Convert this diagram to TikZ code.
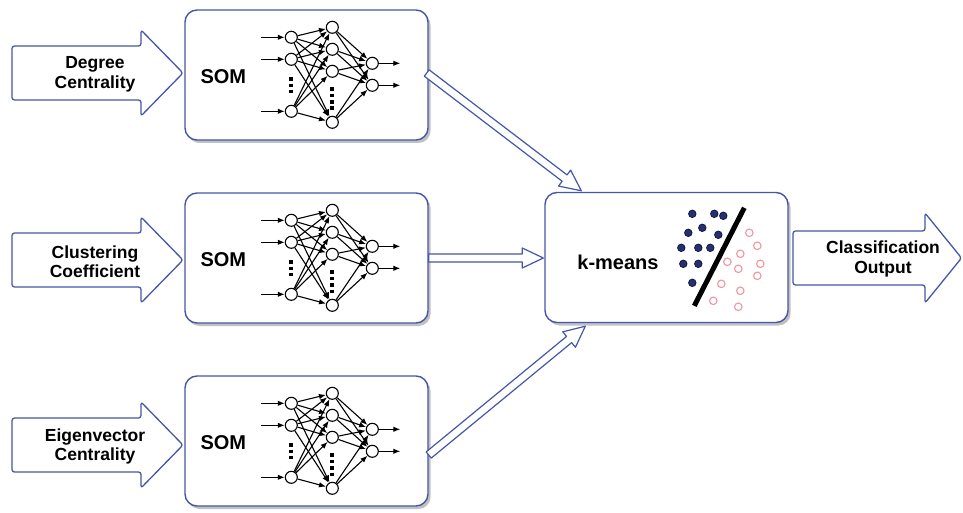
\documentclass[tikz,border=0pt]{standalone}
\usepackage{fontspec}
\setmainfont{Liberation Sans}
\usetikzlibrary{arrows.meta,calc,shadows}
\definecolor{bord}{RGB}{70,86,168}
\definecolor{navy}{RGB}{38,48,112}
\definecolor{navyline}{RGB}{18,24,64}
\definecolor{pinkc}{RGB}{238,150,162}
\newcommand\hollowarrow[2]{%
  \coordinate (hb) at ($(#2)!21pt!(#1)$);
  \draw[conn] ($(#1)!4pt!90:(#2)$) -- ($(hb)!4pt!90:(#2)$) -- ($(hb)!10pt!90:(#2)$) -- (#2)
     -- ($(hb)!10pt!-90:(#2)$) -- ($(hb)!4pt!-90:(#2)$) -- ($(#1)!4pt!-90:(#2)$) -- cycle;
}
\tikzset{
  box/.style={draw=bord, line width=1.4pt, rounded corners=12pt, fill=white,
    minimum width=243pt, minimum height=130pt, inner sep=0pt,
    drop shadow={shadow xshift=2.5pt, shadow yshift=-3pt, opacity=0.35, fill=black!70}},
  bigarrow/.style={draw=bord, line width=1.3pt, fill=white, rounded corners=2.5pt, line join=round},
  conn/.style={draw=bord, line width=1.2pt, fill=white, line join=round},
  lbl/.style={font=\fontsize{17.5}{19.5}\selectfont\bfseries, align=center, inner sep=0pt},
  big/.style={font=\fontsize{20}{22}\selectfont\bfseries, inner sep=0pt},
  neuron/.style={circle, draw, fill=white, line width=1.1pt, minimum size=12pt, inner sep=0pt},
  nn/.style={line width=1.1pt, -{Latex[length=7pt,width=5.5pt]}},
  vdots/.style={line width=3.8pt, dash pattern=on 3.6pt off 2.8pt},
  bdot/.style={circle, fill=navy, draw=navyline, line width=0.8pt, minimum size=7.5pt, inner sep=0pt},
  pdot/.style={circle, draw=pinkc, line width=1.1pt, minimum size=7.5pt, inner sep=0pt},
  somnet/.pic={
    \foreach \i/\y in {1/28,2/50,3/102}{
      \node[neuron] (-i\i) at (107,\y) {};
      \coordinate (-s\i) at (77,\y);
      \draw[nn] (-s\i) -- (-i\i);
    }
    \foreach \j/\y in {1/18,2/40,3/62,4/113}
      \node[neuron] (-h\j) at (148,\y) {};
    \foreach \k/\y in {1/54,2/76}{
      \node[neuron] (-o\k) at (188,\y) {};
      \coordinate (-e\k) at (216,\y);
      \draw[nn] (-o\k) -- (-e\k);
    }
    \foreach \i in {1,2,3}
      \foreach \j in {1,2,3,4}
        \draw[nn] (-i\i) -- (-h\j);
    \foreach \j in {1,2,3,4}
      \foreach \k in {1,2}
        \draw[nn] (-h\j) -- (-o\k);
    \draw[vdots] (107,68) -- (107,84);
    \draw[vdots] (148,78) -- (148,100.5);
  }
}
\begin{document}
\begin{tikzpicture}[x=1pt,y=-1pt]
\useasboundingbox (0,0) rectangle (963,513);

% SOM boxes
\node[box] (som1) at (306.5,75) {};
\node[box] (som2) at (306.5,258) {};
\node[box] (som3) at (306.5,441) {};
\node[box] (km) at (666.5,257.5) {};

\foreach \b in {som1,som2,som3}{
  \node[big] (\b-t) at ($(\b.west)+(39,2)$) {SOM};
  \pic (\b-net) at (\b.north west) {somnet};
}

% input arrows
\foreach \n/\cy/\t in {in1/73/{Degree\\Centrality},in2/260/{Clustering\\Coefficient},in3/445/{Eigenvector\\Centrality}}{
  \draw[bigarrow] (12,\cy-27) -- (141,\cy-27) -- (141,\cy-43) -- (183,\cy) -- (141,\cy+43) -- (141,\cy+27) -- (12,\cy+27) -- cycle;
  \node[lbl] (\n) at (95,\cy+1.5) {\t};
}

% output arrow
\draw[bigarrow] (793,231) -- (925,231) -- (925,213) -- (961.5,258) -- (925,303) -- (925,285) -- (793,285) -- cycle;
\node[lbl] (out) at (883,259) {Classification\\Output};

% k-means content
\node[big] (kmt) at (618,262) {k-means};
\begin{scope}[shift={(km.north west)}]
  \foreach \x/\y in {148/22,170/22,179/24,158/36,144/41,174/43,137/56,154/56,166/56,139/72,154/72,148/91}
    \node[bdot] at (\x,\y) {};
  \foreach \x/\y in {205/41,213/54,196/62,183/70,216/72,194/77,213/84,177/92,196/99,169/109,194/115}
    \node[pdot] at (\x,\y) {};
  \draw[line width=5pt] (200,16) -- (150,114);
\end{scope}

% connectors
\coordinate (s1) at ($(som1.east)+(-2,-2)$);
\coordinate (t1) at ($(km.north west)+(37,-1)$);
\coordinate (s2) at (som2.east);
\coordinate (t2) at ($(km.west)+(-1,0.5)$);
\coordinate (s3) at ($(som3.east)+(0,14)$);
\coordinate (t3) at ($(km.south west)+(41,3)$);
\hollowarrow{s1}{t1}
\hollowarrow{s2}{t2}
\hollowarrow{s3}{t3}
\end{tikzpicture}
\end{document}
